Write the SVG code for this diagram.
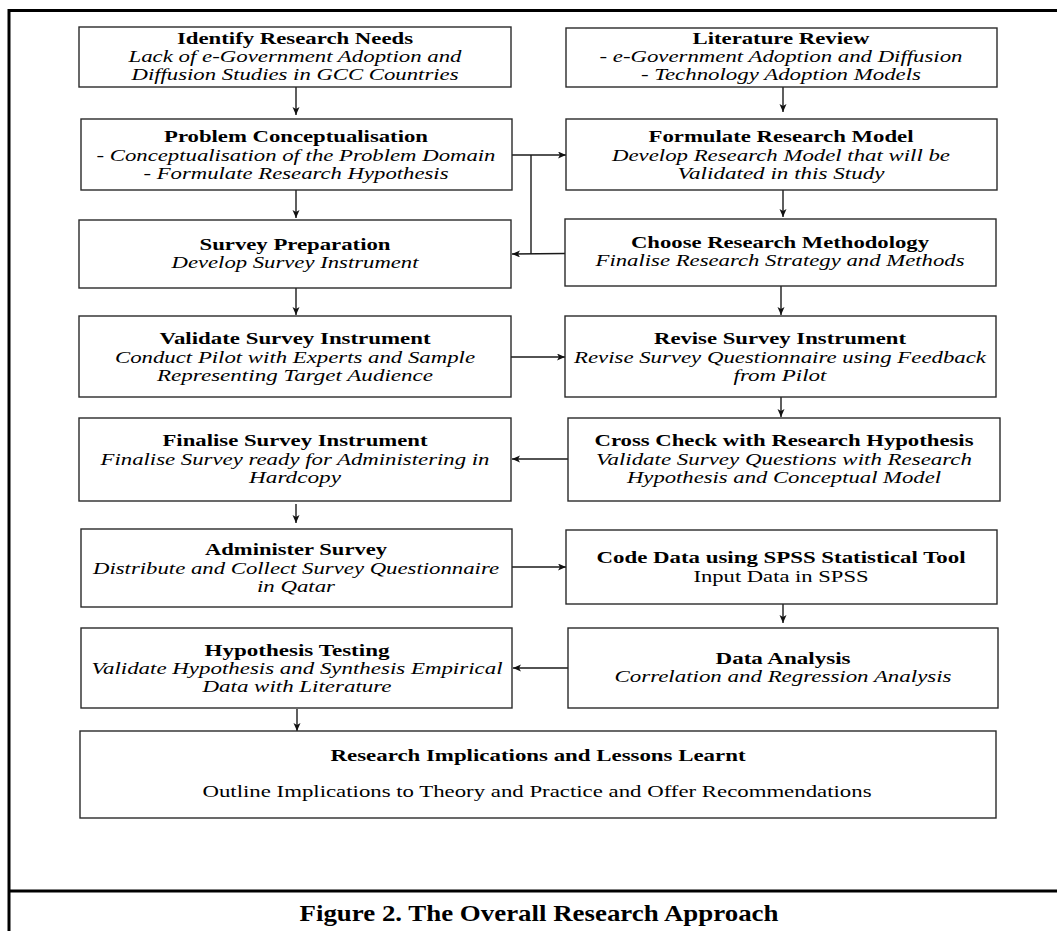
<svg xmlns="http://www.w3.org/2000/svg" width="1057" height="931" viewBox="0 0 1057 931" font-family="Liberation Serif, Times New Roman, Times, serif">
<style>
  .bx { fill: #ffffff; stroke: #2a2a2a; stroke-width: 1.4; }
  text { font-family: "Liberation Serif", "Times New Roman", Times, serif; font-size: 16px; fill: #000; text-anchor: middle; }
  .t { font-weight: bold; }
  .i { font-style: italic; }
  .cap { font-weight: bold; font-size: 24px; }
  .frame { stroke: #000; stroke-width: 3; fill: none; }
  .c { stroke: #1a1a1a; stroke-width: 1.4; fill: none; }
  .ca { stroke: #1a1a1a; stroke-width: 1.4; fill: none; marker-end: url(#ah); }
</style>
<defs>
  <marker id="ah" markerUnits="userSpaceOnUse" markerWidth="9" markerHeight="8" refX="8" refY="3.5" orient="auto">
    <path d="M0,0 L8,3.5 L0,7 L2,3.5 z" fill="#111"/>
  </marker>
</defs>
<rect width="1057" height="931" fill="#ffffff"/>

<g id="frame">
  <line class="frame" x1="8" y1="10.5" x2="1057" y2="10.5"/>
  <line class="frame" x1="9" y1="9" x2="9" y2="931"/>
  <line class="frame" x1="8" y1="891" x2="1057" y2="891"/>
</g>

<g id="connectors">
  <line class="ca" x1="296" y1="87" x2="296" y2="115"/>
  <line class="ca" x1="296" y1="190" x2="296" y2="218"/>
  <line class="ca" x1="296" y1="288" x2="296" y2="315"/>
  <line class="ca" x1="296" y1="504" x2="296" y2="523"/>
  <line class="ca" x1="297" y1="709" x2="297" y2="731"/>
  <line class="ca" x1="783" y1="87" x2="783" y2="112"/>
  <line class="ca" x1="783" y1="190" x2="783" y2="217"/>
  <line class="ca" x1="781" y1="286" x2="781" y2="315"/>
  <line class="ca" x1="781" y1="397" x2="781" y2="417"/>
  <line class="ca" x1="783" y1="604" x2="783" y2="623"/>
  <line class="ca" x1="512" y1="155" x2="566" y2="155"/>
  <line class="c" x1="531" y1="155" x2="531" y2="254"/>
  <line class="ca" x1="565" y1="253.5" x2="512" y2="254"/>
  <line class="ca" x1="511" y1="357" x2="565" y2="357"/>
  <line class="ca" x1="568" y1="459" x2="512" y2="459"/>
  <line class="ca" x1="512" y1="567" x2="566" y2="567"/>
  <line class="ca" x1="568" y1="668" x2="513" y2="668"/>
</g>

<g id="identify-research-needs">
  <rect class="bx" x="79" y="27" width="432" height="60"/>
  <text class="t" x="295" y="44" textLength="236" lengthAdjust="spacingAndGlyphs">Identify Research Needs</text>
  <text class="i" x="295" y="62" textLength="333" lengthAdjust="spacingAndGlyphs">Lack of e-Government Adoption and</text>
  <text class="i" x="295" y="80" textLength="327" lengthAdjust="spacingAndGlyphs">Diffusion Studies in GCC Countries</text>
</g>

<g id="literature-review">
  <rect class="bx" x="566" y="28" width="431" height="59"/>
  <text class="t" x="781" y="44" textLength="177" lengthAdjust="spacingAndGlyphs">Literature Review</text>
  <text class="i" x="781" y="62" textLength="363" lengthAdjust="spacingAndGlyphs">- e-Government Adoption and Diffusion</text>
  <text class="i" x="781" y="80" textLength="280" lengthAdjust="spacingAndGlyphs">- Technology Adoption Models</text>
</g>

<g id="problem-conceptualisation">
  <rect class="bx" x="81" y="119" width="431" height="71"/>
  <text class="t" x="296" y="142" textLength="264" lengthAdjust="spacingAndGlyphs">Problem Conceptualisation</text>
  <text class="i" x="296" y="160.5" textLength="399" lengthAdjust="spacingAndGlyphs">- Conceptualisation of the Problem Domain</text>
  <text class="i" x="296" y="178.5" textLength="305" lengthAdjust="spacingAndGlyphs">- Formulate Research Hypothesis</text>
</g>

<g id="formulate-research-model">
  <rect class="bx" x="566" y="119" width="431" height="71"/>
  <text class="t" x="781" y="142" textLength="265" lengthAdjust="spacingAndGlyphs">Formulate Research Model</text>
  <text class="i" x="781" y="160.5" textLength="338" lengthAdjust="spacingAndGlyphs">Develop Research Model that will be</text>
  <text class="i" x="781" y="178.5" textLength="207" lengthAdjust="spacingAndGlyphs">Validated in this Study</text>
</g>

<g id="survey-preparation">
  <rect class="bx" x="79" y="220" width="432" height="68"/>
  <text class="t" x="295" y="250" textLength="191" lengthAdjust="spacingAndGlyphs">Survey Preparation</text>
  <text class="i" x="295" y="268" textLength="247" lengthAdjust="spacingAndGlyphs">Develop Survey Instrument</text>
</g>

<g id="choose-research-methodology">
  <rect class="bx" x="565" y="219" width="431" height="67"/>
  <text class="t" x="780" y="248" textLength="298" lengthAdjust="spacingAndGlyphs">Choose Research Methodology</text>
  <text class="i" x="780" y="266" textLength="369" lengthAdjust="spacingAndGlyphs">Finalise Research Strategy and Methods</text>
</g>

<g id="validate-survey-instrument">
  <rect class="bx" x="79" y="316" width="432" height="81"/>
  <text class="t" x="295" y="344" textLength="271" lengthAdjust="spacingAndGlyphs">Validate Survey Instrument</text>
  <text class="i" x="295" y="362.5" textLength="360" lengthAdjust="spacingAndGlyphs">Conduct Pilot with Experts and Sample</text>
  <text class="i" x="295" y="380.5" textLength="276" lengthAdjust="spacingAndGlyphs">Representing Target Audience</text>
</g>

<g id="revise-survey-instrument">
  <rect class="bx" x="565" y="316" width="431" height="81"/>
  <text class="t" x="780" y="344" textLength="252" lengthAdjust="spacingAndGlyphs">Revise Survey Instrument</text>
  <text class="i" x="780" y="362.5" textLength="412" lengthAdjust="spacingAndGlyphs">Revise Survey Questionnaire using Feedback</text>
  <text class="i" x="780" y="380.5" textLength="93" lengthAdjust="spacingAndGlyphs">from Pilot</text>
</g>

<g id="finalise-survey-instrument">
  <rect class="bx" x="79" y="418" width="432" height="83"/>
  <text class="t" x="295" y="446" textLength="265" lengthAdjust="spacingAndGlyphs">Finalise Survey Instrument</text>
  <text class="i" x="295" y="464.5" textLength="389" lengthAdjust="spacingAndGlyphs">Finalise Survey ready for Administering in</text>
  <text class="i" x="295" y="482.5" textLength="92" lengthAdjust="spacingAndGlyphs">Hardcopy</text>
</g>

<g id="cross-check">
  <rect class="bx" x="568" y="418" width="432" height="83"/>
  <text class="t" x="784" y="446" textLength="379" lengthAdjust="spacingAndGlyphs">Cross Check with Research Hypothesis</text>
  <text class="i" x="784" y="464.5" textLength="376" lengthAdjust="spacingAndGlyphs">Validate Survey Questions with Research</text>
  <text class="i" x="784" y="482.5" textLength="314" lengthAdjust="spacingAndGlyphs">Hypothesis and Conceptual Model</text>
</g>

<g id="administer-survey">
  <rect class="bx" x="81" y="529" width="431" height="78"/>
  <text class="t" x="296" y="555" textLength="182" lengthAdjust="spacingAndGlyphs">Administer Survey</text>
  <text class="i" x="296" y="573.5" textLength="406" lengthAdjust="spacingAndGlyphs">Distribute and Collect Survey Questionnaire</text>
  <text class="i" x="296" y="591.5" textLength="78" lengthAdjust="spacingAndGlyphs">in Qatar</text>
</g>

<g id="code-data">
  <rect class="bx" x="566" y="530" width="431" height="74"/>
  <text class="t" x="781" y="563" textLength="369" lengthAdjust="spacingAndGlyphs">Code Data using SPSS Statistical Tool</text>
  <text x="781" y="581.5" textLength="175" lengthAdjust="spacingAndGlyphs">Input Data in SPSS</text>
</g>

<g id="hypothesis-testing">
  <rect class="bx" x="81" y="628" width="431" height="80"/>
  <text class="t" x="297" y="656" textLength="185" lengthAdjust="spacingAndGlyphs">Hypothesis Testing</text>
  <text class="i" x="297" y="673.5" textLength="411" lengthAdjust="spacingAndGlyphs">Validate Hypothesis and Synthesis Empirical</text>
  <text class="i" x="297" y="691.5" textLength="189" lengthAdjust="spacingAndGlyphs">Data with Literature</text>
</g>

<g id="data-analysis">
  <rect class="bx" x="568" y="628" width="430" height="80"/>
  <text class="t" x="783" y="664" textLength="135" lengthAdjust="spacingAndGlyphs">Data Analysis</text>
  <text class="i" x="783" y="682" textLength="337" lengthAdjust="spacingAndGlyphs">Correlation and Regression Analysis</text>
</g>

<g id="research-implications">
  <rect class="bx" x="80" y="731" width="916" height="87"/>
  <text class="t" x="538" y="761" textLength="415" lengthAdjust="spacingAndGlyphs">Research Implications and Lessons Learnt</text>
  <text x="537" y="797" textLength="669" lengthAdjust="spacingAndGlyphs">Outline Implications to Theory and Practice and Offer Recommendations</text>
</g>

<g id="caption">
  <text class="cap" x="539" y="921" textLength="479" lengthAdjust="spacingAndGlyphs">Figure 2. The Overall Research Approach</text>
</g>
</svg>
